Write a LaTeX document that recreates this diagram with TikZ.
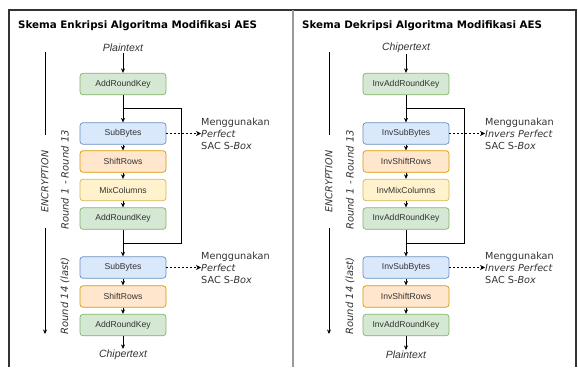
\documentclass[tikz,border=0pt]{standalone}
\usepackage{fontspec}
\setmainfont{Liberation Sans}
\newfontfamily\dejavu{DejaVu Sans}
\usetikzlibrary{arrows.meta}
\definecolor{txt}{HTML}{333333}
\definecolor{gfill}{HTML}{D5E8D4}\definecolor{gline}{HTML}{82B366}
\definecolor{bfill}{HTML}{DAE8FC}\definecolor{bline}{HTML}{6C8EBF}
\definecolor{ofill}{HTML}{FFE6CC}\definecolor{oline}{HTML}{D79B00}
\definecolor{yfill}{HTML}{FFF2CC}\definecolor{yline}{HTML}{D6B656}
\definecolor{frame}{HTML}{333333}
\definecolor{divider}{HTML}{999999}
\tikzset{
  box/.style={draw, rounded corners=3pt, minimum width=86pt, minimum height=21.5pt,
    inner sep=0pt, font=\fontsize{8.6}{10}\selectfont, text=txt, line width=0.7pt},
  grn/.style={box, fill=gfill, draw=gline},
  blu/.style={box, fill=bfill, draw=bline},
  org/.style={box, fill=ofill, draw=oline},
  yel/.style={box, fill=yfill, draw=yline},
  ttl/.style={anchor=west, inner sep=0pt, font=\dejavu\bfseries\fontsize{10.3}{12}\selectfont, text=black},
  io/.style={inner sep=1pt, font=\itshape\fontsize{10.5}{12}\selectfont, text=txt},
  note/.style={anchor=west, inner sep=0pt, align=left, font=\dejavu\fontsize{9.7}{12}\selectfont, text=txt},
  rot/.style={rotate=90, inner sep=0pt, font=\dejavu\itshape\fontsize{10}{12}\selectfont, text=txt},
  enclab/.style={rotate=90, inner sep=0pt, minimum width=93pt, fill=white, font=\dejavu\itshape\fontsize{9.6}{12}\selectfont, text=txt},
  ln/.style={line width=0.8pt, draw=black},
  flow/.style={ln, -{Stealth[length=4.5pt,width=4pt]}},
  dflow/.style={line width=0.7pt, dash pattern=on 2pt off 2pt, -{Stealth[length=5pt,width=5pt]}},
}
\begin{document}
\begin{tikzpicture}[x=1pt,y=-1pt]
\useasboundingbox (0,0) rectangle (578,367);
% frames
\draw[frame, line width=1.3pt] (9,367) -- (9,10) -- (576,10) -- (576,367);
\draw[divider, line width=1.6pt] (293,10) -- (293,367);

% ===== left panel =====
\node[ttl] (t1) at (18,26) {Skema Enkripsi Algoritma Modifikasi AES};
\node[io] (pin1) at (123,48) {Plaintext};
\node[grn] (a1) at (123,84) {AddRoundKey};
\node[blu] (s1) at (123,133.5) {SubBytes};
\node[org] (r1) at (123,161.5) {ShiftRows};
\node[yel] (m1) at (123,190) {MixColumns};
\node[grn] (a2) at (123,218.5) {AddRoundKey};
\node[blu] (s2) at (123,267.5) {SubBytes};
\node[org] (r2) at (123,296.5) {ShiftRows};
\node[grn] (a3) at (123,325) {AddRoundKey};
\node[io] (pout1) at (123,355) {Chipertext};
\coordinate (j1) at (123,108);
\coordinate (j2) at (123,243);
\coordinate (lp1) at (181,108);
\draw[flow] (pin1) -- (a1);
\draw[ln] (a1) -- (j1);
\draw[flow] (j1) -- (s1);
\draw[flow] (s1) -- (r1);
\draw[flow] (r1) -- (m1);
\draw[flow] (m1) -- (a2);
\draw[ln] (a2) -- (j2) -| (lp1) -- (j1);
\draw[flow] (j2) -- (s2);
\draw[flow] (s2) -- (r2);
\draw[flow] (r2) -- (a3);
\draw[flow] (a3) -- (pout1);
\node[note] (n1) at (201,133.5) {Menggunakan\\\textit{Perfect}\\SAC S-\textit{Box}};
\node[note] (n2) at (201,267.5) {Menggunakan\\\textit{Perfect}\\SAC S-\textit{Box}};
\draw[dflow] (s1.east) -- (n1.west);
\draw[dflow] (s2.east) -- (n2.west);
\coordinate (et1) at (45,52);
\coordinate (eb1) at (45,334);
\node[enclab] (enc1) at (45,181.5) {ENCRYPTION};
\draw[ln] (et1) -- (enc1);
\draw[flow] (enc1) -- (eb1);
\node[rot] (rl1) at (65,180) {Round 1 - Round 13};
\node[rot] (rl2) at (65,296) {Round 14 (last)};

% ===== right panel =====
\node[ttl] (t2) at (302,26) {Skema Dekripsi Algoritma Modifikasi AES};
\node[io] (pin2) at (406,48) {Chipertext};
\node[grn] (b1) at (406,84) {InvAddRoundKey};
\node[blu] (u1) at (406,133.5) {InvSubBytes};
\node[org] (h1) at (406,161.5) {InvShiftRows};
\node[yel] (c1) at (406,190) {InvMixColumns};
\node[grn] (b2) at (406,218.5) {InvAddRoundKey};
\node[blu] (u2) at (406,267.5) {InvSubBytes};
\node[org] (h2) at (406,296.5) {InvShiftRows};
\node[grn] (b3) at (406,325) {InvAddRoundKey};
\node[io] (pout2) at (406,355) {Plaintext};
\coordinate (k1) at (406,108);
\coordinate (k2) at (406,243);
\coordinate (lp2) at (464,108);
\draw[flow] (pin2) -- (b1);
\draw[ln] (b1) -- (k1);
\draw[flow] (k1) -- (u1);
\draw[flow] (u1) -- (h1);
\draw[flow] (h1) -- (c1);
\draw[flow] (c1) -- (b2);
\draw[ln] (b2) -- (k2) -| (lp2) -- (k1);
\draw[flow] (k2) -- (u2);
\draw[flow] (u2) -- (h2);
\draw[flow] (h2) -- (b3);
\draw[flow] (b3) -- (pout2);
\node[note] (n3) at (485,133.5) {Menggunakan\\\textit{Invers Perfect}\\SAC S-\textit{Box}};
\node[note] (n4) at (485,267.5) {Menggunakan\\\textit{Invers Perfect}\\SAC S-\textit{Box}};
\draw[dflow] (u1.east) -- (n3.west);
\draw[dflow] (u2.east) -- (n4.west);
\coordinate (et2) at (329,52);
\coordinate (eb2) at (329,334);
\node[enclab] (enc2) at (329,181.5) {ENCRYPTION};
\draw[ln] (et2) -- (enc2);
\draw[flow] (enc2) -- (eb2);
\node[rot] (rl3) at (350,180) {Round 1 - Round 13};
\node[rot] (rl4) at (350,296) {Round 14 (last)};
\end{tikzpicture}
\end{document}
